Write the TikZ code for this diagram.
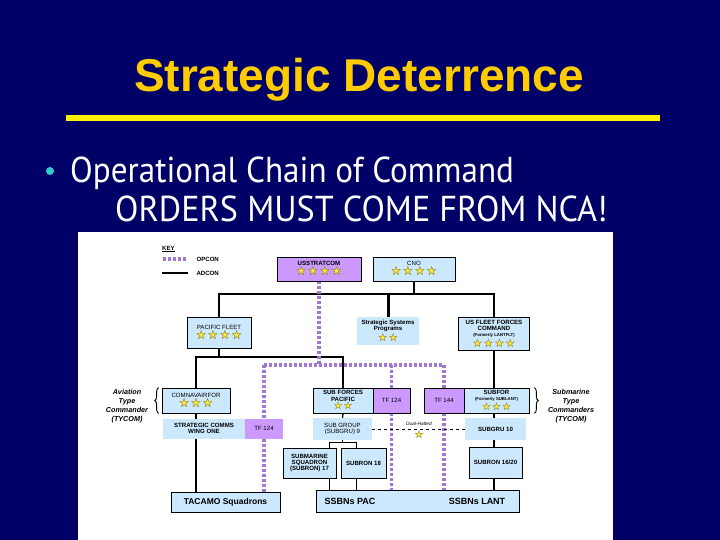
\documentclass[tikz,border=0pt]{standalone}
\usepackage{graphicx}
\usepackage{fontspec}
\setmainfont{Liberation Sans}
\newfontfamily\bodyfont{PT Sans}
\newfontfamily\starfont{DejaVu Sans}
\usetikzlibrary{calc, backgrounds, decorations.pathreplacing}

\definecolor{slidenavy}{RGB}{0,0,102}
\definecolor{titlegold}{RGB}{255,204,0}
\definecolor{ruleyellow}{RGB}{255,240,0}
\definecolor{bulletcyan}{RGB}{51,204,204}
\definecolor{boxblue}{RGB}{204,232,252}
\definecolor{boxpurple}{RGB}{204,153,255}
\definecolor{opconpurple}{RGB}{160,120,210}
\definecolor{starfill}{RGB}{255,236,60}
\definecolor{starline}{RGB}{70,60,15}

\newcommand{\chartfont}{\fontsize{6.1}{6.3}\selectfont}
% row of rank stars, optional glyph size in pt
\newcommand{\stars}[2][12.5]{\raisebox{0pt}[\dimexpr #1pt*72/100\relax][0.8pt]{\starfont\fontsize{#1}{9}\selectfont\foreach \k in {1,...,#2}{\kern0.3pt\makebox[0pt][l]{\color{starfill}★}{\color{starline}☆}\kern0.3pt}}}

\tikzset{
    unit/.style={draw=black, line width=0.7pt, fill=boxblue, inner sep=0.5pt, align=center, font=\chartfont\bfseries},
    unitflat/.style={fill=boxblue, inner sep=0.5pt, align=center, font=\chartfont\bfseries},
    tfbox/.style={unit, fill=boxpurple, font=\chartfont},
    adcon/.style={black, line width=1.4pt},
    opcon/.style={opconpurple, line width=3.2pt, dash pattern=on 3pt off 2pt},
    sidenote/.style={font=\fontsize{7.2}{9.2}\selectfont\bfseries\itshape, align=center},
    slidetext/.style={anchor=base west, font=\bodyfont\fontsize{36}{40}\selectfont, text=white, inner sep=0pt},
}

\begin{document}
\begin{tikzpicture}[x=1pt, y=-1pt]
    % --- Slide background and chart sheet ---
    \begin{scope}[on background layer]
        \fill[slidenavy] (0,0) rectangle (720,540);
        \fill[white] (78,232) rectangle (613,540);
    \end{scope}

    % --- Title and bullet text ---
    \node[font=\fontsize{46}{50}\selectfont\bfseries, text=titlegold] (title) at (359,80) {Strategic Deterrence};
    \fill[ruleyellow] (66,115) rectangle (660,121); % title rule
    \node[circle, fill=bulletcyan, inner sep=0pt, minimum size=8pt] (bullet) at (50,171) {};
    \node[slidetext] (point) at (70,183) {\scalebox{0.92}[1]{Operational Chain of Command}};
    \node[slidetext] (orders) at (115,222) {\scalebox{0.95}[1]{ORDERS MUST COME FROM NCA!}};

    % --- Key ---
    \node[anchor=west, font=\chartfont\bfseries, inner sep=0pt] (keytitle) at (162,249) {\underline{KEY}};
    \coordinate (opkey) at (163,259);
    \coordinate (adkey) at (162,273);
    \draw[opcon] (opkey) -- ++(24,0);
    \draw[adcon] (adkey) -- ++(26,0);
    \node[anchor=west, font=\chartfont\bfseries] (opconlabel) at (193,259) {OPCON};
    \node[anchor=west, font=\chartfont\bfseries] (adconlabel) at (193,273) {ADCON};

    % --- Top level ---
    \node[tfbox, font=\chartfont\bfseries, minimum width=84pt, minimum height=24pt] (strat) at (319,269) {USSTRATCOM\\\stars{4}};
    \node[unit, font=\chartfont, minimum width=82pt, minimum height=24pt] (cno) at (414,269) {CNO\\\stars{4}};

    % --- Second level ---
    \node[unit, font=\chartfont, minimum width=64pt, minimum height=31pt] (pacflt) at (219,333) {PACIFIC FLEET\\\stars{4}};
    \node[unitflat, minimum width=62pt, minimum height=28pt] (ssp) at (388,331) {Strategic Systems\\Programs\\\stars[11]{2}};
    \node[unit, minimum width=71pt, minimum height=33pt] (usff) at (494,334) {US FLEET FORCES\\COMMAND\\{\fontsize{4.3}{4.8}\selectfont(Formerly LANTFLT)}\\\stars[11.5]{4}};

    % --- Type commanders ---
    \node[unit, font=\chartfont, minimum width=68pt, minimum height=25pt] (navair) at (196,400.5) {COMNAVAIRFOR\\\stars{3}};
    \node[unit, minimum width=60pt, minimum height=25pt] (sfpac) at (343,400.5) {SUB FORCES\\PACIFIC\\\stars[10.5]{2}};
    \node[tfbox, minimum width=37pt, minimum height=25pt] (tfpac) at (391.5,400.5) {TF 124};
    \node[tfbox, minimum width=40pt, minimum height=25pt] (tfant) at (444,400.5) {TF 144};
    \node[unit, minimum width=65pt, minimum height=25pt] (subfor) at (496.5,400.5) {SUBFOR\\{\fontsize{4.3}{4.8}\selectfont(Formerly SUBLANT)}\\\stars[10.5]{3}};

    % --- Groups ---
    \node[unitflat, minimum width=82pt, minimum height=20pt] (comms) at (204,428.5) {STRATEGIC COMMS\\WING ONE};
    \node[unitflat, fill=boxpurple, font=\chartfont, minimum width=38pt, minimum height=20pt] (tfcomms) at (264,428.5) {TF 124};
    \node[unitflat, font=\chartfont, minimum width=59pt, minimum height=22pt] (subgru9) at (342.5,429) {SUB GROUP\\(SUBGRU) 9};
    \node[unitflat, minimum width=61pt, minimum height=22pt] (subgru10) at (495.5,429) {SUBGRU 10};

    % --- Squadrons ---
    \node[unit, minimum width=53pt, minimum height=30pt] (subron17) at (309.5,463) {SUBMARINE\\SQUADRON\\(SUBRON) 17};
    \node[unit, minimum width=45pt, minimum height=30pt] (subron18) at (363.5,463) {SUBRON 18};
    \node[unit, minimum width=53pt, minimum height=31pt] (subron1620) at (495.5,462.5) {SUBRON 16/20};

    % --- Forces ---
    \node[unit, minimum width=109pt, minimum height=20pt, font=\fontsize{8.5}{9}\selectfont\bfseries] (tacamo) at (225.5,502) {TACAMO Squadrons};
    \node[unit, minimum width=203pt, minimum height=22pt] (ssbn) at (417.5,501) {};
    \node[font=\fontsize{9}{9}\selectfont\bfseries] (ssbnpac) at (350,501) {SSBNs PAC};
    \node[font=\fontsize{9}{9}\selectfont\bfseries] (ssbnlant) at (477,501) {SSBNs LANT};

    % --- Side notes ---
    \node[sidenote] (aviation) at (127,406) {Aviation\\Type\\Commander\\(TYCOM)};
    \node[sidenote] (submarine) at (571,406) {Submarine\\Type\\Commanders\\(TYCOM)};
    \draw[line width=0.9pt, decorate, decoration={brace, amplitude=4pt}] ($(navair.south west)+(-3,0)$) -- ($(navair.north west)+(-3,0)$);
    \draw[line width=0.9pt, decorate, decoration={brace, amplitude=4pt}] ($(subfor.north east)+(5,0)$) -- ($(subfor.south east)+(5,0)$);

    % --- Dual hatted link ---
    \draw[black, line width=0.5pt, dashed] (subgru9.east) -- (subgru10.west);
    \node[font=\fontsize{4.8}{5}\selectfont\itshape, inner sep=0pt] (dualnote) at (419,424) {Dual-Hatted};
    \node[inner sep=0pt] (dualstar) at (419,435) {\stars[11]{1}};

    % --- Connectors (behind the boxes) ---
    \coordinate (bus) at (0,294);
    \coordinate (pacbus) at (0,357);
    \coordinate (opbus) at (0,365);
    \coordinate (forkbus) at (0,442.5);
    \coordinate (sq17top) at ($(subron17.north east)+(-7,0)$);
    \coordinate (sq18top) at ($(subron18.north west)+(16,0)$);
    \begin{scope}[on background layer]
        % ADCON lines
        \draw[adcon] (cno.south) -- (cno.south |- bus);
        \draw[adcon] (pacflt.north) |- (usff.north |- bus) -- (usff.north);
        \draw[black, line width=3pt] (ssp.north) -- (ssp.north |- bus);
        \draw[adcon] (pacflt.south) -- (pacflt.south |- pacbus);
        \draw[adcon] (navair.north) |- (sfpac.north |- pacbus) -- (sfpac.north);
        \draw[adcon] (usff.south) -- (usff.south |- subfor.north);
        \draw[adcon] (navair.south) -- (navair.south |- tacamo.north);
        \draw[adcon] (sfpac.south) -- (subgru9.north);
        \draw[adcon] (subgru9.south) -- (subgru9.south |- forkbus);
        \draw[adcon] (sq17top) |- (sq18top |- forkbus) -- (sq18top);
        \draw[adcon] (sq17top |- subron17.south) -- (sq17top |- ssbn.north);
        \draw[adcon] (sq18top |- subron18.south) -- (sq18top |- ssbn.north);
        \draw[adcon] (usff.south |- subfor.south) -- (usff.south |- subgru10.north);
        \draw[adcon] (usff.south |- subgru10.south) -- (usff.south |- subron1620.north);
        \draw[adcon] (usff.south |- subron1620.south) -- (usff.south |- ssbn.north);
        % OPCON lines
        \draw[opcon] (strat.south) -- (strat.south |- opbus);
        \draw[opcon] (tfcomms.north |- opbus) -- (tfant.north |- opbus);
        \draw[opcon] (tfcomms.north |- opbus) -- (tfcomms.north);
        \draw[opcon] (tfcomms.south) -- (tfcomms.south |- tacamo.north);
        \draw[opcon] (tfpac.north |- opbus) -- (tfpac.north);
        \draw[opcon] (tfpac.south) -- (tfpac.south |- ssbn.north);
        \draw[opcon] (tfant.north |- opbus) -- (tfant.north);
        \draw[opcon] (tfant.south) -- (tfant.south |- ssbn.north);
    \end{scope}
\end{tikzpicture}
\end{document}
